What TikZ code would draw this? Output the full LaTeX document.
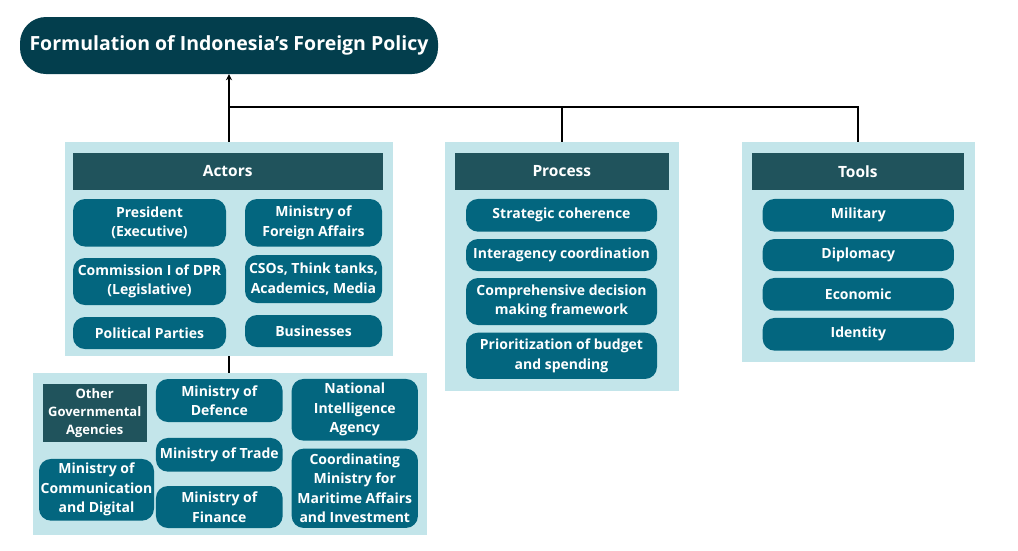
\documentclass[tikz,border=0pt]{standalone}
\usepackage{fontspec}
\setmainfont{Open Sans}[Ligatures=NoCommon]
\usetikzlibrary{arrows.meta}
\definecolor{titlec}{HTML}{033E4D}
\definecolor{headc}{HTML}{20535C}
\definecolor{boxc}{HTML}{03667F}
\definecolor{panelc}{HTML}{C3E5EA}
\tikzset{
  panel/.style={fill=panelc,draw=none,inner sep=0pt},
  headbox/.style={fill=headc,draw=none,text=white,inner sep=0pt,font=\bfseries\fontsize{15.5}{20}\selectfont},
  itembox/.style={fill=boxc,draw=none,text=white,inner sep=0pt,rounded corners=12pt,align=center,font=\bfseries\fontsize{14}{19.5}\selectfont},
  titlebox/.style={fill=titlec,draw=none,text=white,inner sep=0pt,rounded corners=26pt,font=\bfseries\fontsize{19.5}{24}\selectfont},
  conn/.style={line width=2pt,black},
}
\begin{document}
\begin{tikzpicture}[x=1pt,y=-1pt]
\useasboundingbox (0,0) rectangle (1018,550);
% title
\node[titlebox,minimum width=418pt,minimum height=57pt] (title) at (229,45.5) {Formulation of Indonesia’s Foreign Policy};
% panels
\node[panel,minimum width=328pt,minimum height=214pt] (actors) at (229,249) {};
\node[panel,minimum width=394pt,minimum height=162pt] (others) at (229.7,454) {};
\node[panel,minimum width=234pt,minimum height=248.7pt] (process) at (562,266.3) {};
\node[panel,minimum width=233.3pt,minimum height=219.7pt] (tools) at (858.3,251.8) {};
% actors
\node[headbox,minimum width=310pt,minimum height=37.3pt] (acth) at (227.7,171.3) {Actors};
\node[itembox,minimum width=153pt,minimum height=47.5pt] (pres) at (149.5,222.75) {President\\(Executive)};
\node[itembox,minimum width=137pt,minimum height=47.5pt] (mofa) at (313.5,222.75) {Ministry of\\Foreign Affairs};
\node[itembox,minimum width=153pt,minimum height=47pt] (dpr) at (149.5,281.5) {Commission I of DPR\\(Legislative)};
\node[itembox,minimum width=137pt,minimum height=48pt] (cso) at (313.5,279) {CSOs, Think tanks,\\Academics, Media};
\node[itembox,minimum width=153pt,minimum height=32pt] (parties) at (149.5,333) {Political Parties};
\node[itembox,minimum width=137pt,minimum height=32pt] (bus) at (313.5,331) {Businesses};
% other agencies
\node[headbox,align=center,font=\bfseries\fontsize{13}{18}\selectfont,minimum width=104pt,minimum height=57.7pt] (oga) at (94.7,412.8) {Other\\Governmental\\Agencies};
\node[itembox,minimum width=126.7pt,minimum height=43pt] (mod) at (219.3,400.5) {Ministry of\\Defence};
\node[itembox,minimum width=126.3pt,minimum height=61.7pt] (nia) at (354.8,409.8) {National\\Intelligence\\Agency};
\node[itembox,minimum width=126.7pt,minimum height=33.7pt] (trade) at (219.3,454.8) {Ministry of Trade};
\node[itembox,minimum width=115pt,minimum height=61.7pt] (comm) at (96.5,489.8) {Ministry of\\Communication\\and Digital};
\node[itembox,minimum width=126.7pt,minimum height=42pt] (fin) at (219.3,507) {Ministry of\\Finance};
\node[itembox,minimum width=126.3pt,minimum height=79.3pt] (coord) at (354.8,488.3) {Coordinating\\Ministry for\\Maritime Affairs\\and Investment};
% process
\node[headbox,minimum width=213.7pt,minimum height=37.3pt] (proch) at (561.8,171.3) {Process};
\node[itembox,minimum width=191pt,minimum height=32.7pt] (strat) at (561.5,215.3) {Strategic coherence};
\node[itembox,minimum width=191pt,minimum height=32pt] (inter) at (561.5,255) {Interagency coordination};
\node[itembox,minimum width=191pt,minimum height=47pt] (compr) at (561.5,301.5) {Comprehensive decision\\making framework};
\node[itembox,minimum width=191pt,minimum height=46.3pt] (prio) at (561.5,355.8) {Prioritization of budget\\and spending};
% tools
\node[headbox,minimum width=212.3pt,minimum height=37.3pt] (toolh) at (857.8,171.3) {Tools};
\node[itembox,minimum width=191.3pt,minimum height=32.7pt] (mil) at (858.3,215.3) {Military};
\node[itembox,minimum width=191.3pt,minimum height=32pt] (dip) at (858.3,255) {Diplomacy};
\node[itembox,minimum width=191.3pt,minimum height=32.7pt] (eco) at (858.3,294.3) {Economic};
\node[itembox,minimum width=191.3pt,minimum height=32.7pt] (iden) at (858.3,334.3) {Identity};
% connectors
\coordinate (j) at (229,107);
\draw[conn,-{Stealth[length=6pt,width=6pt]}] (actors.north) -- (title.south);
\draw[conn] (j) -| (process.north);
\draw[conn] (j) -| (tools.north);
\draw[conn] (actors.south) -- (actors.south |- others.north);
\end{tikzpicture}
\end{document}
